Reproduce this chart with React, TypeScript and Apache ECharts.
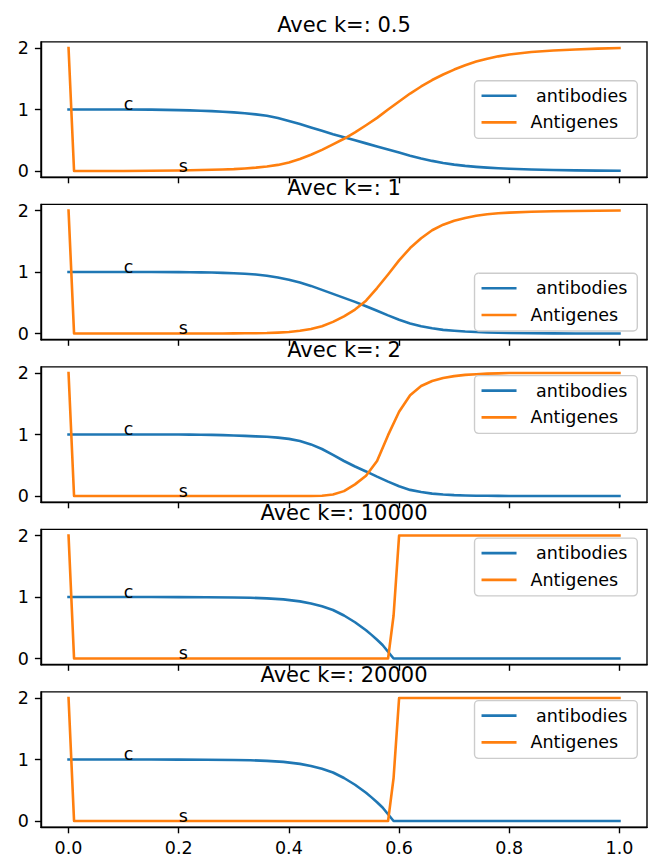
import React, { useEffect, useRef } from 'react';
import * as echarts from 'echarts';

// ---------- data ----------
const kValues = ['0.5', '1', '2', '10000', '20000'];
const seriesNames = [' antibodies', 'Antigenes'];
const xTicks = [0, 0.2, 0.4, 0.6, 0.8, 1.0];
const yTicks = [0, 1, 2];

// panels 1-3 share the same sampling times
const timeA = [0, 0.01, 0.05, 0.1, 0.15, 0.2, 0.22, 0.24, 0.26, 0.28, 0.3, 0.32, 0.34, 0.36, 0.38, 0.4, 0.42, 0.44, 0.46, 0.48, 0.5, 0.52, 0.54, 0.56, 0.58, 0.6, 0.62, 0.64, 0.66, 0.68, 0.7, 0.72, 0.74, 0.76, 0.78, 0.8, 0.84, 0.88, 0.92, 0.96, 1.0];

// panel 1 : k = 0.5
const antibodies1 = [1, 1, 1, 1, 0.998, 0.99, 0.986, 0.981, 0.974, 0.965, 0.954, 0.94, 0.922, 0.898, 0.862, 0.815, 0.765, 0.71, 0.655, 0.6, 0.55, 0.5, 0.45, 0.4, 0.35, 0.3, 0.25, 0.205, 0.165, 0.132, 0.105, 0.084, 0.068, 0.055, 0.045, 0.037, 0.025, 0.017, 0.011, 0.007, 0.005];
const antigenes1 = [2, 0, 0, 0.002, 0.005, 0.01, 0.013, 0.017, 0.021, 0.025, 0.031, 0.042, 0.056, 0.075, 0.1, 0.14, 0.195, 0.265, 0.345, 0.435, 0.525, 0.63, 0.745, 0.865, 1.0, 1.13, 1.26, 1.375, 1.48, 1.57, 1.65, 1.72, 1.78, 1.825, 1.865, 1.895, 1.935, 1.96, 1.977, 1.99, 2.0];

// panel 2 : k = 1
const antibodies2 = [1, 1, 1, 1, 1, 0.998, 0.997, 0.995, 0.992, 0.987, 0.98, 0.972, 0.96, 0.94, 0.91, 0.875, 0.83, 0.775, 0.71, 0.645, 0.58, 0.515, 0.445, 0.37, 0.295, 0.225, 0.165, 0.12, 0.085, 0.06, 0.045, 0.033, 0.025, 0.019, 0.014, 0.01, 0.006, 0.003, 0.002, 0.001, 0];
const antigenes2 = [2, 0, 0, 0, 0, 0, 0, 0.001, 0.001, 0.002, 0.003, 0.004, 0.006, 0.008, 0.015, 0.025, 0.045, 0.075, 0.12, 0.19, 0.28, 0.39, 0.535, 0.74, 0.96, 1.19, 1.39, 1.55, 1.68, 1.77, 1.835, 1.88, 1.915, 1.94, 1.955, 1.967, 1.98, 1.988, 1.993, 1.997, 2.0];

// panel 3 : k = 2
const antibodies3 = [1, 1, 1, 1, 1, 1, 0.999, 0.997, 0.994, 0.99, 0.984, 0.978, 0.971, 0.963, 0.95, 0.93, 0.895, 0.84, 0.765, 0.67, 0.57, 0.48, 0.4, 0.315, 0.235, 0.16, 0.1, 0.065, 0.04, 0.025, 0.015, 0.009, 0.006, 0.004, 0.003, 0.002, 0.001, 0, 0, 0, 0];
const antigenes3 = [2, 0, 0, 0, 0, 0, 0, 0, 0, 0, 0, 0, 0, 0, 0, 0, 0.001, 0.002, 0.006, 0.025, 0.08, 0.19, 0.33, 0.57, 0.99, 1.37, 1.64, 1.79, 1.87, 1.92, 1.95, 1.97, 1.98, 1.99, 1.995, 2.0, 2, 2, 2, 2, 2];

// panels 4-5 share their sampling times
const timeB = [0, 0.01, 0.05, 0.1, 0.15, 0.2, 0.25, 0.3, 0.33, 0.36, 0.39, 0.42, 0.44, 0.46, 0.48, 0.5, 0.52, 0.54, 0.55, 0.56, 0.57, 0.58, 0.59, 0.6, 0.7, 0.8, 0.9, 1.0];

// panel 4 : k = 10000
const antibodies4 = [1, 1, 1, 1, 1, 0.999, 0.997, 0.993, 0.988, 0.978, 0.962, 0.93, 0.895, 0.85, 0.79, 0.7, 0.59, 0.46, 0.385, 0.305, 0.22, 0.11, 0, 0, 0, 0, 0, 0];
const antigenes4 = [2, 0, 0, 0, 0, 0, 0, 0, 0, 0, 0, 0, 0, 0, 0, 0, 0, 0, 0, 0, 0, 0, 0.7, 2, 2, 2, 2, 2];

// panel 5 : k = 20000
const antibodies5 = [1, 1, 1, 1, 1, 0.999, 0.997, 0.993, 0.988, 0.978, 0.962, 0.93, 0.895, 0.85, 0.79, 0.7, 0.59, 0.46, 0.385, 0.305, 0.22, 0.11, 0, 0, 0, 0, 0, 0];
const antigenes5 = [2, 0, 0, 0, 0, 0, 0, 0, 0, 0, 0, 0, 0, 0, 0, 0, 0, 0, 0, 0, 0, 0, 0.7, 2, 2, 2, 2, 2];

const times = [timeA, timeA, timeA, timeB, timeB];
const antibodies = [antibodies1, antibodies2, antibodies3, antibodies4, antibodies5];
const antigenes = [antigenes1, antigenes2, antigenes3, antigenes4, antigenes5];

// annotations written on every panel
const noteTexts = ['c', 's'];
const noteX = [0.1, 0.2];
const noteY = [1, 0];

// where matplotlib put each legend ("best")
const legendLoc = ['center', 'bottom', 'top', 'top', 'top'];

// ---------- style / layout ----------
const FONT = 'DejaVu Sans';
const FS = 17.5;
const BLUE = '#1f77b4';
const ORANGE = '#ff7f0e';
const GRID_LEFT = 41;
const GRID_W = 606;
const GRID_TOP0 = 41.9;
const GRID_STEP = 162.5;
const GRID_H = 135.3;
const LEG_H = 57.7;

function buildOption() {
  const grids: any[] = [];
  const xAxes: any[] = [];
  const yAxes: any[] = [];
  const series: any[] = [];
  const titles: any[] = [];
  const legends: any[] = [];

  for (let i = 0; i < 5; i++) {
    const top = GRID_TOP0 + GRID_STEP * i;
    grids.push({
      left: GRID_LEFT,
      top,
      width: GRID_W,
      height: GRID_H,
      show: true,
      borderColor: '#000',
      borderWidth: 1.4,
      backgroundColor: 'transparent',
      outerBoundsMode: 'none',
      containLabel: false,
    });
    xAxes.push({
      type: 'value',
      gridIndex: i,
      min: -0.05,
      max: 1.05,
      splitLine: { show: false },
      axisLine: { show: true, onZero: false, lineStyle: { color: '#000', width: 1.4 } },
      axisTick: { show: true, customValues: xTicks, length: 6.1, lineStyle: { color: '#000', width: 1.4 } },
      axisLabel: {
        show: i === 4,
        customValues: xTicks,
        formatter: (v: number) => v.toFixed(1),
        margin: 12.2,
        color: '#000',
        fontFamily: FONT,
        fontSize: FS,
      },
    });
    yAxes.push({
      type: 'value',
      gridIndex: i,
      min: -0.1,
      max: 2.1,
      splitLine: { show: false },
      axisLine: { show: true, onZero: false, lineStyle: { color: '#000', width: 1.4 } },
      axisTick: { show: true, customValues: yTicks, length: 6.1, lineStyle: { color: '#000', width: 1.4 } },
      axisLabel: {
        show: true,
        customValues: yTicks,
        formatter: (v: number) => String(v),
        margin: 12.2,
        color: '#000',
        fontFamily: FONT,
        fontSize: FS,
      },
    });

    const notes = noteTexts.map((t, j) => ({
      coord: [noteX[j], noteY[j]],
      value: t,
    }));

    series.push({
      type: 'line',
      name: seriesNames[0],
      xAxisIndex: i,
      yAxisIndex: i,
      data: times[i].map((t, j) => [t, antibodies[i][j]]),
      symbol: 'none',
      showSymbol: false,
      lineStyle: { color: BLUE, width: 2.6, join: 'round', cap: 'square' },
      itemStyle: { color: BLUE },
      z: 2,
      markPoint: {
        symbol: 'circle',
        symbolSize: 0,
        silent: true,
        itemStyle: { color: 'transparent' },
        label: {
          show: true,
          position: 'inside',
          formatter: (p: any) => p.value,
          align: 'left',
          verticalAlign: 'bottom',
          color: '#000',
          fontFamily: FONT,
          fontSize: FS,
          lineHeight: FS,
          offset: [0, 3.5],
        },
        data: notes,
      },
    });
    series.push({
      type: 'line',
      name: seriesNames[1],
      xAxisIndex: i,
      yAxisIndex: i,
      data: times[i].map((t, j) => [t, antigenes[i][j]]),
      symbol: 'none',
      showSymbol: false,
      lineStyle: { color: ORANGE, width: 2.6, join: 'round', cap: 'square' },
      itemStyle: { color: ORANGE },
      z: 3,
    });

    titles.push({
      text: 'Avec k=: ' + kValues[i],
      left: GRID_LEFT + GRID_W / 2,
      textAlign: 'center',
      top: top - 27.3,
      padding: 0,
      textStyle: {
        fontFamily: FONT,
        fontSize: 21,
        fontWeight: 'normal',
        color: '#000',
        lineHeight: 21,
      },
    });

    let legTop = top + 8.75;
    if (legendLoc[i] === 'center') legTop = top + (GRID_H - LEG_H) / 2;
    if (legendLoc[i] === 'bottom') legTop = top + GRID_H - 8.75 - LEG_H;
    legends.push({
      data: seriesNames,
      orient: 'vertical',
      right: 17.7,
      top: legTop,
      icon: 'rect',
      itemWidth: 35,
      itemHeight: 2.6,
      itemGap: 6.7,
      padding: [5, 10, 6, 7],
      backgroundColor: 'rgba(255,255,255,0.8)',
      borderColor: '#cccccc',
      borderWidth: 1.4,
      borderRadius: 4,
      selectedMode: false,
      textStyle: {
        fontFamily: FONT,
        fontSize: FS,
        lineHeight: 20,
        color: '#000',
        padding: [0, 0, 0, 9],
      },
    });
  }

  return {
    animation: false,
    backgroundColor: '#fff',
    textStyle: { fontFamily: FONT },
    title: titles,
    legend: legends,
    grid: grids,
    xAxis: xAxes,
    yAxis: yAxes,
    series,
  };
}

export default function App() {
  const ref = useRef<HTMLDivElement>(null);
  useEffect(() => {
    if (!ref.current) return;
    const chart = echarts.init(ref.current, undefined, { renderer: 'svg' });
    chart.setOption(buildOption() as any);
    return () => chart.dispose();
  }, []);
  return (
    <div
      ref={ref}
      style={{ position: 'absolute', left: 0, top: 0, width: 655, height: 859, background: '#fff' }}
    />
  );
}
